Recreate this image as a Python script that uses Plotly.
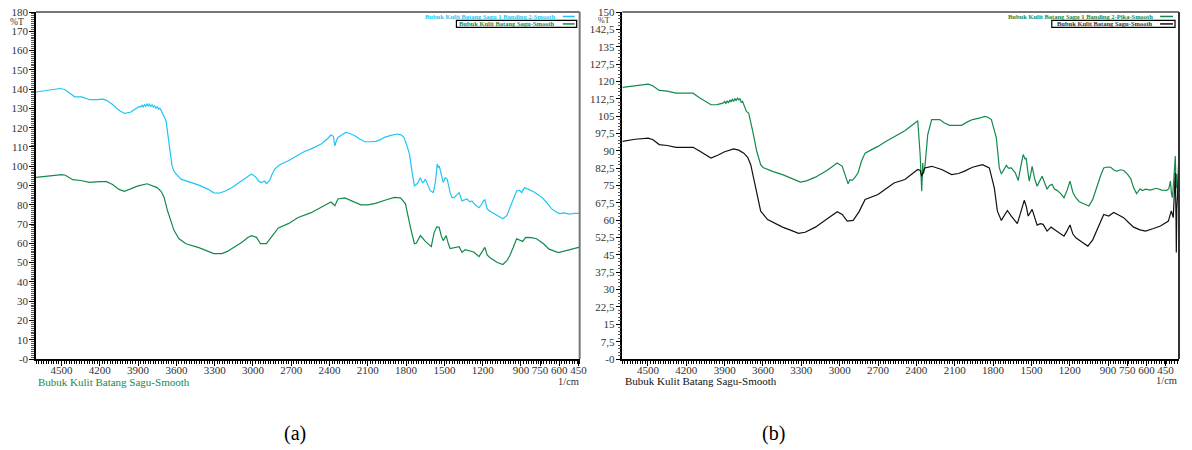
import plotly.graph_objects as go

# ---------------- data ----------------
A_CYAN_WN = [4700, 4650, 4600, 4550, 4513, 4474, 4430, 4397, 4342, 4300, 4280, 4220, 4180, 4150, 4100, 4050, 4007, 3960, 3920, 3891,
             3880, 3870, 3860, 3850, 3840, 3830, 3820, 3810, 3800, 3790, 3780, 3770, 3760, 3750, 3740, 3730, 3720,
             3700, 3681, 3657, 3634, 3620, 3603, 3564, 3500, 3424, 3350, 3307, 3268, 3220, 3167, 3100, 3050, 3011, 2980, 2950,
             2933, 2910, 2895, 2870, 2855, 2830, 2800, 2778, 2723, 2680, 2645, 2600, 2544, 2500, 2466, 2420, 2389, 2370, 2358,
             2345, 2334, 2300, 2272, 2240, 2202, 2160, 2124, 2080, 2039, 2000, 1969, 1920, 1867, 1840, 1817, 1795, 1774, 1751,
             1735, 1712, 1700, 1688, 1673, 1660, 1649, 1630, 1611, 1587, 1570, 1556, 1548, 1540, 1533, 1520, 1509, 1495, 1478,
             1455, 1440, 1424, 1400, 1385, 1362, 1345, 1323, 1300, 1284, 1260, 1229, 1210, 1195, 1183, 1165, 1152, 1113, 1080,
             1042, 1010, 988, 960, 934, 910, 895, 880, 871, 840, 801, 760, 723, 690, 661, 630, 599, 560, 520, 480, 451, 440]
A_CYAN_T = [138.5, 139.0, 139.6, 140.0, 140.3, 139.8, 137.5, 136.0, 136.0, 135.0, 134.5, 134.5, 134.8, 134.3, 132.0, 129.0, 127.4, 128.0, 130.0, 131.0,
            130.7, 131.6, 130.8, 132.0, 131.1, 132.3, 131.3, 132.2, 131.0, 131.8, 130.7, 131.4, 130.0, 131.0, 129.6, 130.1, 129.0,
            126.5, 123.6, 111.6, 100.2, 97.5, 96.0, 93.3, 91.8, 90.2, 88.0, 86.2, 86.0, 87.0, 88.8, 91.8, 94.5, 96.0, 94.5, 92.0,
            91.5, 92.3, 91.0, 92.5, 95.0, 98.5, 100.2, 101.2, 102.8, 104.5, 106.0, 107.5, 109.0, 110.5, 111.5, 114.0, 116.2, 115.5, 110.6,
            113.5, 114.9, 116.5, 117.5, 117.0, 115.8, 114.0, 112.7, 112.7, 112.9, 113.8, 115.0, 116.0, 116.7, 116.3, 115.0, 111.0, 106.4, 96.0,
            89.8, 91.0, 93.0, 94.0, 91.5, 92.0, 93.3, 90.0, 87.3, 86.3, 92.0, 101.2, 99.5, 100.0, 97.7, 94.0, 91.5, 94.0, 93.3,
            86.3, 83.7, 83.7, 85.5, 86.3, 82.0, 82.5, 83.0, 81.5, 82.0, 80.0, 78.5, 80.0, 82.0, 82.6, 78.0, 77.0, 75.4, 74.5,
            72.8, 74.5, 78.0, 83.0, 87.3, 87.5, 86.3, 88.0, 88.8, 88.0, 86.8, 85.0, 83.0, 80.5, 78.0, 76.5, 75.4, 75.8, 75.2, 75.6, 75.4, 75.5]

A_GREEN_WN = [4700, 4600, 4498, 4470, 4430, 4412, 4350, 4280, 4200, 4147, 4100, 4050, 4007, 3950, 3900, 3829, 3790, 3751, 3720, 3696,
              3670, 3642, 3618, 3579, 3525, 3424, 3350, 3307, 3245, 3200, 3167, 3089, 3040, 3011, 2972, 2941, 2895, 2856, 2801,
              2723, 2646, 2544, 2450, 2389, 2358, 2334, 2280, 2230, 2155, 2100, 2039, 1960, 1891, 1844, 1805, 1766, 1735, 1720,
              1688, 1649, 1603, 1580, 1560, 1541, 1525, 1509, 1486, 1470, 1455, 1385, 1362, 1338, 1300, 1270, 1229, 1200, 1183,
              1165, 1144, 1089, 1042, 1010, 988, 960, 934, 887, 863, 820, 778, 723, 680, 607, 560, 500, 451, 440]
A_GREEN_T = [94.2, 95.0, 95.6, 95.3, 93.5, 93.0, 92.6, 91.6, 92.0, 92.0, 90.5, 88.0, 87.0, 88.5, 89.8, 90.9, 90.0, 88.9, 87.0, 83.8,
             77.0, 71.8, 66.6, 62.4, 59.8, 57.8, 55.8, 54.7, 54.7, 55.8, 57.2, 60.4, 63.0, 64.0, 63.1, 59.8, 59.8, 63.0, 68.0,
             70.2, 73.4, 75.9, 79.0, 81.4, 79.5, 83.0, 83.6, 82.0, 80.0, 80.0, 80.7, 82.5, 83.8, 83.6, 80.5, 68.3, 59.8, 60.0,
             64.0, 61.0, 58.3, 65.7, 68.5, 68.3, 64.0, 61.4, 64.0, 60.0, 57.3, 58.3, 55.3, 56.7, 56.2, 55.5, 53.1, 56.0, 57.9,
             54.0, 52.7, 50.2, 49.0, 51.0, 53.6, 58.0, 62.4, 61.0, 63.1, 63.0, 62.4, 59.8, 57.0, 55.2, 56.0, 57.0, 57.9, 58.0]

B_GREEN_WN = [4700, 4600, 4498, 4460, 4412, 4350, 4280, 4200, 4147, 4100, 4040, 4007, 3960, 3914,
              3900, 3890, 3880, 3870, 3860, 3850, 3840, 3830, 3820, 3810, 3800, 3789, 3780, 3770, 3760, 3750, 3740, 3730,
              3712, 3695, 3680, 3649, 3618, 3600, 3579, 3520, 3447, 3380, 3307, 3260, 3190, 3100, 3019, 2980, 2955, 2934,
              2920, 2902, 2880, 2856, 2830, 2801, 2750, 2700, 2646, 2575, 2490, 2389, 2370, 2358, 2350, 2345, 2334, 2311,
              2280, 2218, 2180, 2140, 2090, 2046, 2000, 1961, 1900, 1867, 1840, 1813, 1774, 1751, 1735, 1715, 1696, 1680,
              1657, 1626, 1603, 1580, 1564, 1550, 1541, 1530, 1517, 1505, 1494, 1475, 1455, 1435, 1416, 1395, 1377, 1358,
              1338, 1320, 1300, 1270, 1245, 1220, 1198, 1175, 1152, 1125, 1105, 1080, 1050, 1020, 988, 960, 934, 905, 879,
              850, 832, 800, 778, 750, 723, 700, 677, 650, 630, 607, 570, 521, 480, 443, 425, 412, 405, 397, 385, 374, 368,
              362, 355, 348]
B_GREEN_T = [117.4, 118.2, 118.8, 118.0, 116.1, 115.8, 114.9, 114.9, 114.9, 113.0, 110.8, 109.9, 110.0, 110.6,
             111.3, 110.4, 111.6, 110.7, 112.0, 111.1, 112.4, 111.3, 112.6, 111.6, 112.8, 112.0, 112.6, 110.8, 111.4, 109.6, 108.8, 107.0,
             106.3, 102.5, 98.4, 89.8, 84.0, 82.8, 82.3, 81.0, 79.7, 78.0, 76.5, 77.0, 78.6, 81.5, 84.7, 83.3, 79.0, 75.7,
             77.5, 77.2, 78.5, 80.5, 85.5, 89.0, 90.5, 91.9, 93.8, 96.2, 98.7, 103.0, 88.0, 72.5, 84.7, 80.0, 82.6, 97.0,
             103.5, 103.5, 102.0, 101.0, 101.0, 101.0, 102.5, 103.5, 104.2, 104.9, 104.5, 103.5, 95.6, 82.6, 80.0, 82.0, 83.7, 82.5,
             82.6, 80.5, 77.2, 84.0, 88.4, 86.5, 86.9, 82.0, 76.9, 80.0, 83.3, 78.0, 74.7, 77.0, 79.0, 76.0, 73.4, 75.0,
             75.5, 73.5, 72.9, 71.5, 69.7, 73.0, 76.9, 72.0, 69.7, 68.0, 67.5, 67.0, 66.1, 69.0, 74.7, 79.0, 82.6, 83.0, 82.9,
             81.5, 81.2, 81.8, 81.5, 80.0, 78.0, 74.0, 71.5, 73.5, 72.8, 73.4, 73.0, 73.8, 73.0, 72.9, 73.5, 76.9, 72.0, 69.7, 78.0, 87.7, 74.0,
             80.0, 70.0, 75.0]

B_BLACK_WN = [4700, 4600, 4498, 4460, 4412, 4350, 4280, 4200, 4147, 4100, 4040, 4007, 3950, 3900, 3829, 3790, 3750, 3720,
              3696, 3657, 3618, 3564, 3500, 3447, 3380, 3322, 3270, 3190, 3100, 3019, 2980, 2941, 2895, 2850, 2801, 2700,
              2646, 2575, 2490, 2420, 2389, 2370, 2358, 2345, 2334, 2280, 2202, 2124, 2070, 2023, 1961, 1883, 1829, 1790,
              1766, 1735, 1710, 1688, 1657, 1610, 1580, 1556, 1540, 1525, 1494, 1470, 1455, 1430, 1408, 1377, 1346, 1320,
              1300, 1270, 1245, 1220, 1198, 1175, 1152, 1097, 1058, 1020, 988, 960, 934, 895, 856, 810, 778, 740, 700, 650,
              607, 550, 490, 428, 405, 390, 380, 374, 368, 366, 362, 355, 348]
B_BLACK_T = [94.1, 95.0, 95.5, 94.8, 92.7, 92.3, 91.5, 91.5, 91.5, 90.0, 87.8, 86.9, 88.2, 89.6, 90.8, 90.3, 89.0, 87.2,
             84.0, 74.0, 63.9, 60.3, 58.5, 57.0, 55.6, 54.3, 54.8, 57.0, 60.5, 63.7, 62.5, 59.6, 59.9, 63.5, 69.0, 71.1,
             73.3, 76.1, 77.6, 80.5, 81.9, 81.5, 79.0, 81.0, 82.6, 83.3, 81.9, 79.7, 80.2, 81.2, 82.9, 84.0, 82.6, 74.0,
             63.9, 59.9, 62.0, 64.2, 61.8, 58.5, 64.0, 68.6, 66.0, 61.8, 64.7, 60.0, 57.9, 58.5, 58.2, 55.3, 57.0, 56.0,
             55.3, 54.0, 53.1, 55.5, 57.9, 54.0, 52.4, 50.3, 48.8, 51.5, 55.6, 59.5, 62.5, 61.8, 63.3, 62.0, 61.1, 59.0, 57.0, 55.8,
             55.3, 56.3, 57.5, 59.6, 64.0, 61.1, 70.0, 80.5, 60.0, 46.0, 65.0, 72.0, 85.0]

X_TICK_VALS = [4500, 4200, 3900, 3600, 3300, 3000, 2700, 2400, 2100, 1800, 1500, 1200, 900, 750, 600, 450]
X_TICK_LABELS = ["4500", "4200", "3900", "3600", "3300", "3000", "2700", "2400", "2100", "1800", "1500", "1200", "900", "750", "600", "450"]
A_Y_TICK_VALS = [0, 10, 20, 30, 40, 50, 60, 70, 80, 90, 100, 110, 120, 130, 140, 150, 160, 170, 180]
A_Y_TICK_LABELS = ["-0", "10", "20", "30", "40", "50", "60", "70", "80", "90", "100", "110", "120", "130", "140", "150", "160", "170", "180"]
B_Y_TICK_VALS = [0, 7.5, 15, 22.5, 30, 37.5, 45, 52.5, 60, 67.5, 75, 82.5, 90, 97.5, 105, 112.5, 120, 127.5, 135, 142.5, 150]
B_Y_TICK_LABELS = ["-0", "7,5", "15", "22,5", "30", "37,5", "45", "52,5", "60", "67,5", "75", "82,5", "90", "97,5", "105",
                   "112,5", "120", "127,5", "135", "142,5", "150"]

NAME_A1 = "Bubuk Kulit Batang Sagu 1 Banding 2-Smooth"
NAME_B1 = "Bubuk Kulit Batang Sagu 1 Banding 2-Pika-Smooth"
NAME_REF = "Bubuk Kulit Batang Sagu-Smooth"

# ---------------- styling ----------------
CYAN = "#1ec6f4"
GREEN = "#138a4c"
BLACK = "#111111"
SERIF = "Liberation Serif"
W, H = 1192, 450
ML, MR, MT, MB = 36, 6, 10, 91
PW, PH = W - ML - MR, H - MT - MB


def px(x):
    return (x - ML) / PW


def py(y):
    return (H - MB - y) / PH


fig = go.Figure()
fig.add_trace(go.Scatter(x=A_CYAN_WN, y=A_CYAN_T, mode="lines", line=dict(color=CYAN, width=1.2),
                         name=NAME_A1, xaxis="x", yaxis="y"))
fig.add_trace(go.Scatter(x=A_GREEN_WN, y=A_GREEN_T, mode="lines", line=dict(color=GREEN, width=1.2),
                         name=NAME_REF, xaxis="x", yaxis="y"))
fig.add_trace(go.Scatter(x=B_GREEN_WN, y=B_GREEN_T, mode="lines", line=dict(color=GREEN, width=1.2),
                         name=NAME_B1, xaxis="x2", yaxis="y2"))
fig.add_trace(go.Scatter(x=B_BLACK_WN, y=B_BLACK_T, mode="lines", line=dict(color=BLACK, width=1.2),
                         name=NAME_REF, xaxis="x2", yaxis="y2"))

tickfont = dict(family=SERIF, size=11, color="#333333")
xa_dom = [px(36), px(583)]
xb_dom = [px(626), px(1186)]

common_x = dict(tickmode="array", tickvals=X_TICK_VALS, ticktext=X_TICK_LABELS, ticks="outside", ticklen=5,
                tickwidth=1, tickcolor="black", showline=True, linecolor="black", linewidth=1.5,
                showgrid=False, zeroline=False, tickfont=tickfont, ticklabelstandoff=-5,
                minor=dict(ticks="outside", ticklen=3, tickmode="linear", tick0=0, dtick=20, tickcolor="black",
                           showgrid=False))
common_y = dict(tickmode="array", ticks="outside", ticklen=5, tickcolor="black", showline=True,
                linecolor="black", linewidth=1.5, showgrid=False, zeroline=False, tickfont=tickfont,
                ticklabelstandoff=-1)
fig.update_layout(
    xaxis=dict(domain=xa_dom, range=[4700, 440], anchor="y", **common_x),
    xaxis2=dict(domain=xb_dom, range=[4700, 345], anchor="y2", **common_x),
    yaxis=dict(domain=[0, 1], range=[0, 180], anchor="x", tickvals=A_Y_TICK_VALS, ticktext=A_Y_TICK_LABELS,
               minor=dict(ticks="outside", ticklen=3, tickmode="linear", tick0=0, dtick=1, tickcolor="#555555",
                          showgrid=False), **common_y),
    yaxis2=dict(domain=[0, 1], range=[0, 150], anchor="x2", tickvals=B_Y_TICK_VALS, ticktext=B_Y_TICK_LABELS,
                minor=dict(ticks="outside", ticklen=3, tickmode="linear", tick0=0, dtick=1.5, tickcolor="#555555",
                           showgrid=False), **common_y),
    width=W, height=H, margin=dict(l=ML, r=MR, t=MT, b=MB),
    paper_bgcolor="white", plot_bgcolor="white", showlegend=False,
)

shapes = []
# top and right frame lines
for x0, x1, rc in [(36, 583, "#777777"), (626, 1186, "#333333")]:
    shapes.append(dict(type="line", xref="paper", yref="paper", x0=px(x0), x1=px(x1), y0=1, y1=1,
                       line=dict(color="#777777", width=2)))
    shapes.append(dict(type="line", xref="paper", yref="paper", x0=px(x1), x1=px(x1), y0=0, y1=1,
                       line=dict(color=rc, width=2)))
# legend boxes and sample lines
shapes.append(dict(type="rect", xref="paper", yref="paper", x0=px(459), x1=px(580), y0=py(18.5), y1=py(25.5),
                   line=dict(color="black", width=1.2)))
shapes.append(dict(type="rect", xref="paper", yref="paper", x0=px(1058), x1=px(1182), y0=py(18.5), y1=py(25.5),
                   line=dict(color="black", width=1.2)))
for (x0, x1, y, c) in [(566, 578, 14.5, CYAN), (566, 578, 22, GREEN), (1167, 1180, 14.5, GREEN), (1167, 1180, 22, BLACK)]:
    shapes.append(dict(type="line", xref="paper", yref="paper", x0=px(x0), x1=px(x1), y0=py(y), y1=py(y),
                       line=dict(color=c, width=1.5)))
fig.update_layout(shapes=shapes)

ann = []


def add_text(text, x, y, xanchor, size, color, bold=False):
    t = "<b>%s</b>" % text if bold else text
    ann.append(dict(text=t, x=px(x), y=py(y), xref="paper", yref="paper", xanchor=xanchor, yanchor="middle",
                    showarrow=False, font=dict(family=SERIF, size=size, color=color)))


add_text(NAME_A1, 560, 14.5, "right", 6.5, CYAN, True)
add_text(NAME_REF, 560, 22, "right", 6.5, GREEN, True)
add_text(NAME_B1, 1162, 14.5, "right", 6.5, GREEN, True)
add_text(NAME_REF, 1162, 22, "right", 6.5, "#333333", True)
add_text("%T", 17, 20, "center", 9.5, "#333333")
add_text("%T", 607, 19, "center", 8, "#333333")
add_text("1/cm", 584, 382, "right", 10.5, "#333333")
add_text("1/cm", 1186, 381, "right", 10.5, "#333333")
add_text(NAME_REF, 36, 382, "left", 11, GREEN)
add_text(NAME_REF, 627, 381, "left", 11, BLACK)
add_text("(a)", 297, 434, "center", 20, "black")
add_text("(b)", 778, 434, "center", 20, "black")
fig.update_layout(annotations=ann)

fig.write_html("out.html", config={"displayModeBar": False},
               post_script="document.body.style.margin='0px';")
